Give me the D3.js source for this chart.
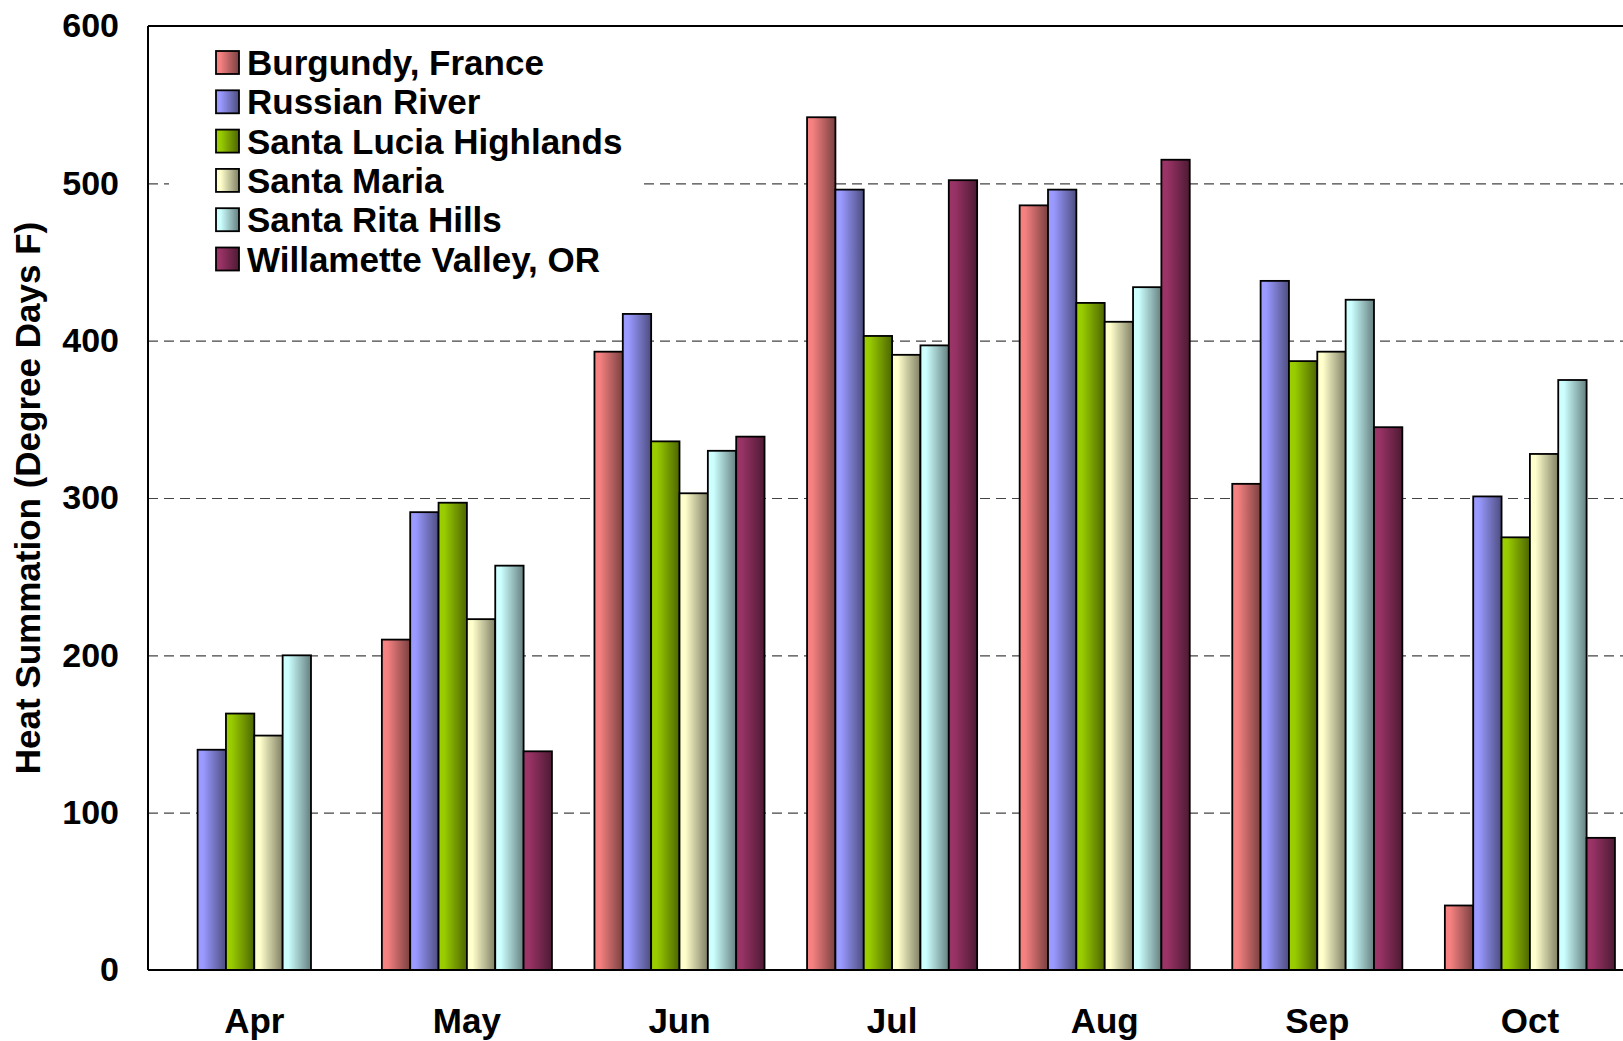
<!DOCTYPE html>
<html>
<head>
<meta charset="utf-8">
<script src="https://cdn.jsdelivr.net/npm/d3@7"></script>
<style>
  body { margin: 0; background: #fff; }
  svg { display: block; font-family: "Liberation Sans", Arial, sans-serif; font-weight: bold; }
</style>
</head>
<body>
<div class="js-vis"></div>
<script>
const months = ["Apr", "May", "Jun", "Jul", "Aug", "Sep", "Oct"]
const seriesNames = ["Burgundy, France", "Russian River", "Santa Lucia Highlands",
  "Santa Maria", "Santa Rita Hills", "Willamette Valley, OR"]

const burgundy   = [null, 210, 393, 542, 486, 309, 41]
const russian    = [140, 291, 417, 496, 496, 438, 301]
const lucia      = [163, 297, 336, 403, 424, 387, 275]
const maria      = [149, 223, 303, 391, 412, 393, 328]
const rita       = [200, 257, 330, 397, 434, 426, 375]
const willamette = [null, 139, 339, 502, 515, 345, 84]

const yTicks = [0, 100, 200, 300, 400, 500, 600]
const colors = ["#F48080", "#9999FF", "#99CC00", "#FFFFCC", "#CCFFFF", "#993366"]

const seriesValues = [burgundy, russian, lucia, maria, rita, willamette]

const W = 1623, H = 1041
const margin = { top: 26, left: 148, bottom: 71 }
const bandW = 212.6
const plotW = bandW * months.length,
    plotH = H - margin.top - margin.bottom

const svg = d3.select(".js-vis").append("svg")
    .attr("width", W)
    .attr("height", H)

// gradients, light on the left, dark on the right
const defs = svg.append("defs")
colors.forEach((c, i) => {
  const base = d3.rgb(c),
      dark = d3.rgb(base.r * 0.5, base.g * 0.5, base.b * 0.5)
  const g = defs.append("linearGradient")
      .attr("id", "grad" + i)
      .attr("x1", 0).attr("x2", 1).attr("y1", 0).attr("y2", 0)
  g.append("stop").attr("offset", "0%").attr("stop-color", base.brighter(0.05))
  g.append("stop").attr("offset", "20%").attr("stop-color", base)
  g.append("stop").attr("offset", "100%").attr("stop-color", dark)
})

const vis = svg.append("g")
    .attr("transform", "translate(" + margin.left + "," + margin.top + ")")

const x = d3.scaleBand()
  .domain(months)
  .range([0, plotW])

const x1 = d3.scaleBand()
  .domain(d3.range(seriesNames.length))
  .range([bandW * 0.1, bandW * 0.9])

const y = d3.scaleLinear()
  .domain([0, 600])
  .range([plotH, 0])

// gridlines
vis.append("g")
    .attr("class", "grid")
    .call(d3.axisLeft(y).tickValues(yTicks.slice(1, -1)).tickSize(-plotW).tickFormat(""))
    .call(g => g.select(".domain").remove())
    .call(g => g.selectAll("line")
      .attr("stroke", "#444")
      .attr("stroke-width", 1.2)
      .attr("stroke-dasharray", "10,6"))

// legend background hides gridlines behind it
const legend = vis.append("g")
    .attr("transform", "translate(21,11)")
legend.append("rect")
    .attr("width", 469)
    .attr("height", 245)
    .attr("fill", "#fff")

// bars
const groups = vis.selectAll(".month")
  .data(months)
.enter().append("g")
    .attr("class", "month")
    .attr("transform", d => "translate(" + x(d) + ",0)")

groups.selectAll("rect")
  .data((m, mi) => seriesValues.map((s, si) => ({ si: si, v: s[mi] })).filter(d => d.v != null))
.enter().append("rect")
    .attr("x", d => x1(d.si))
    .attr("y", d => y(d.v))
    .attr("width", x1.bandwidth())
    .attr("height", d => y(0) - y(d.v))
    .attr("fill", d => "url(#grad" + d.si + ")")
    .attr("stroke", "#000")
    .attr("stroke-width", 1.8)

// frame
vis.append("line")
    .attr("x1", 0).attr("x2", plotW).attr("y1", 0).attr("y2", 0)
    .attr("stroke", "#000").attr("stroke-width", 2)
vis.append("line")
    .attr("x1", 0).attr("x2", plotW).attr("y1", plotH).attr("y2", plotH)
    .attr("stroke", "#000").attr("stroke-width", 2)
vis.append("line")
    .attr("x1", 0).attr("x2", 0).attr("y1", 0).attr("y2", plotH)
    .attr("stroke", "#000").attr("stroke-width", 2)

// axes
vis.append("g")
    .call(d3.axisLeft(y).tickValues(yTicks).tickSize(0).tickPadding(29))
    .call(g => g.select(".domain").remove())
    .call(g => g.selectAll("text")
      .attr("fill", "#000")
      .style("font-size", "34px")
      .style("font-family", "Liberation Sans, Arial, sans-serif")
      .style("font-weight", "bold"))

vis.append("g")
    .attr("transform", "translate(0," + plotH + ")")
    .call(d3.axisBottom(x).tickSize(0).tickPadding(38))
    .call(g => g.select(".domain").remove())
    .call(g => g.selectAll("text")
      .attr("fill", "#000")
      .style("font-size", "35px")
      .style("font-family", "Liberation Sans, Arial, sans-serif")
      .style("font-weight", "bold"))

svg.append("text")
    .attr("transform", "translate(40," + (margin.top + plotH / 2) + ") rotate(-90)")
    .attr("text-anchor", "middle")
    .style("font-size", "35px")
    .text("Heat Summation (Degree Days F)")

// legend entries
const items = legend.selectAll(".item")
  .data(seriesNames)
.enter().append("g")
    .attr("class", "item")
    .attr("transform", (d, i) => "translate(0," + (i * 39.3) + ")")

items.append("rect")
    .attr("x", 47)
    .attr("y", 14)
    .attr("width", 23)
    .attr("height", 23)
    .attr("fill", (d, i) => "url(#grad" + i + ")")
    .attr("stroke", "#000")
    .attr("stroke-width", 1.8)

items.append("text")
    .attr("x", 78)
    .attr("y", 25.5)
    .attr("dy", "0.36em")
    .style("font-size", "35px")
    .text(String)
</script>
</body>
</html>
